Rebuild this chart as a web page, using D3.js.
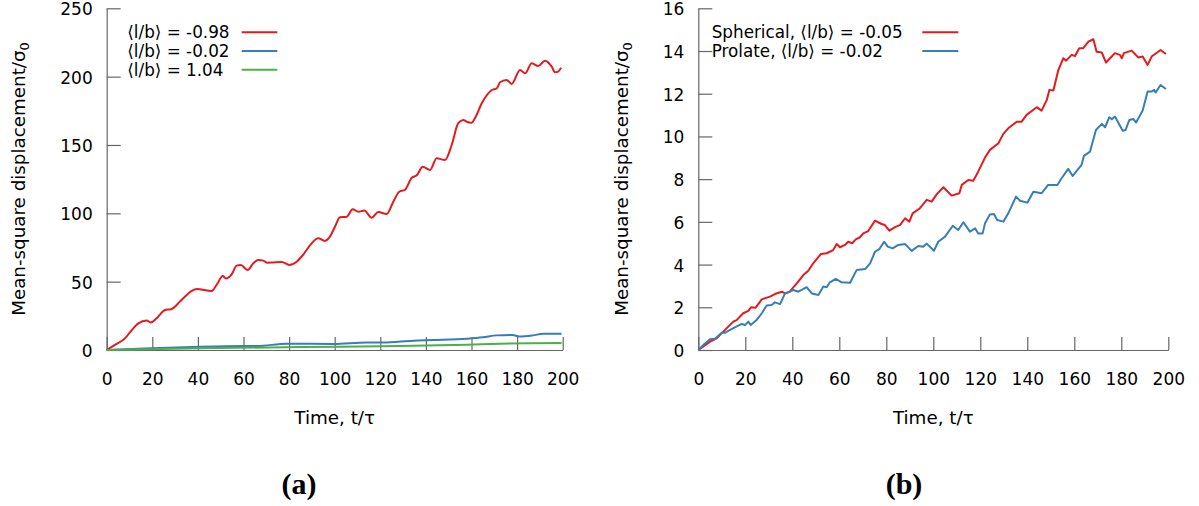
<!DOCTYPE html>
<html>
<head>
<meta charset="utf-8">
<script src="https://cdn.jsdelivr.net/npm/d3@7"></script>
<style>
  html, body { margin: 0; padding: 0; background: #fff; }
  svg { display: block; font-family: "DejaVu Sans", sans-serif; }
  .axis path, .axis line { stroke: #666; stroke-width: 1.2; }
  .axis text { font-size: 17px; fill: #000; font-family: "DejaVu Sans", sans-serif; }
</style>
</head>
<body>
<svg id="chart" width="1199" height="506"></svg>
<script>
// ---- Panel (a): three orientation ensembles ----
const timeTicks = [0, 20, 40, 60, 80, 100, 120, 140, 160, 180, 200];
const msdTicksA = [0, 50, 100, 150, 200, 250];
const msdTicksB = [0, 2, 4, 6, 8, 10, 12, 14, 16];

const labelsA = ["\u27E8l/b\u27E9 = -0.98", "\u27E8l/b\u27E9 = -0.02", "\u27E8l/b\u27E9 = 1.04"];
const labelsB = ["Spherical, \u27E8l/b\u27E9 = -0.05", "Prolate, \u27E8l/b\u27E9 = -0.02"];

const tA1 = [0, 3.6, 8, 11, 13.9, 17.5, 19.4, 21.9, 25.6, 28.2, 32.1, 34.3, 37.3, 39.5, 46, 48.2, 50.9, 52.3, 54.8, 57, 58.8, 61.8, 64.3, 66.5, 68.7, 70.4, 73, 76.8, 80.1, 83.3, 86.3, 89.5, 92.8, 95.7, 97.9, 100.1, 102.3, 105.3, 107.9, 110.4, 113, 116.2, 119.1, 122.8, 125.7, 128.3, 130.8, 133.8, 136, 138.6, 141.8, 144.7, 148.4, 151.3, 154.2, 156.4, 157.9, 160.1, 161.5, 164.5, 168.9, 171.1, 172.5, 175.4, 177.6, 181.3, 183.5, 186.4, 189.3, 192.2, 195.2, 196.6, 198, 199.3];
const msdA1 = [0, 3.7, 8.5, 14.6, 19.5, 21.5, 20.2, 23.2, 29.3, 29.8, 35.4, 39, 43.2, 44.6, 43.2, 47.6, 54.1, 52.4, 55.4, 61.7, 62.2, 58.5, 63.4, 65.9, 65.4, 63.9, 64.1, 64.4, 62.2, 64.6, 70, 77.3, 81.7, 79.8, 82.9, 90.2, 97.1, 97.5, 102.9, 101.2, 102, 96.8, 101, 99.5, 108.5, 115.8, 117.1, 126.1, 127.8, 134.1, 131.7, 140.3, 139, 150, 166, 168.3, 167, 166.3, 169.5, 180.5, 190.2, 191.5, 195.9, 197.6, 194.6, 204.9, 202.4, 209.8, 207.8, 211.7, 207.3, 203.2, 203.7, 206.6];

const tA2 = [0, 19, 41, 59.9, 66, 78.8, 99.4, 114, 121, 134.5, 143, 158, 165, 171, 178, 181, 187, 191.5, 199.5];
const msdA2 = [0, 1.2, 2.4, 2.9, 2.9, 4.6, 4.4, 5.4, 5.4, 6.8, 7.3, 8.3, 9.3, 10.7, 11, 9.8, 10.7, 11.9, 11.9];

const tA3 = [0, 41, 85, 128.5, 158, 172.5, 199.5];
const msdA3 = [0, 1.2, 2.2, 2.9, 3.9, 4.6, 5.1];

// ---- Panel (b): spherical vs prolate ----
const tB1 = [0, 2.9, 5, 7.8, 10.6, 14.9, 16.3, 19.1, 21.3, 22.4, 24.4, 27, 30.5, 32.6, 35.5, 36.9, 38.9, 41.9, 44.7, 46.8, 48.9, 52.2, 54.6, 57.4, 58.9, 60.3, 62.4, 63.8, 65.5, 67, 68.8, 70.2, 72.3, 75.2, 78, 79.4, 81.3, 83.7, 85.8, 88, 89.8, 91.2, 94.3, 97.2, 99.3, 101.5, 104.3, 107.8, 111.1, 112.1, 114.9, 117, 119.1, 122, 124.1, 127.7, 129.8, 131.9, 135.5, 137.6, 139.7, 144, 146.1, 148.3, 149.4, 151.1, 153.2, 155.3, 156.5, 158.9, 160.3, 162.1, 163.8, 166, 168.1, 169.5, 171.7, 173.5, 175.2, 177.3, 179.4, 180.2, 181.1, 184.4, 187.2, 189.1, 191.2, 192.9, 196.7, 199];
const msdB1 = [0, 0.23, 0.39, 0.55, 0.86, 1.33, 1.4, 1.72, 1.83, 2.0, 1.98, 2.37, 2.5, 2.62, 2.73, 2.65, 2.73, 3.12, 3.51, 3.71, 4.06, 4.5, 4.53, 4.68, 4.96, 4.81, 4.92, 5.07, 5.0, 5.18, 5.28, 5.46, 5.57, 6.06, 5.9, 5.85, 5.59, 5.75, 5.85, 6.17, 6.01, 6.4, 6.64, 7.03, 6.95, 7.3, 7.62, 7.23, 7.34, 7.73, 7.96, 7.93, 8.35, 9.01, 9.37, 9.68, 10.12, 10.38, 10.69, 10.69, 11.01, 11.37, 11.21, 11.71, 12.18, 12.15, 13.11, 13.66, 13.55, 13.82, 13.77, 14.13, 14.13, 14.44, 14.55, 13.97, 13.93, 13.46, 13.66, 13.9, 13.82, 13.66, 13.9, 14.02, 13.7, 13.74, 13.35, 13.74, 14.05, 13.86];

const tB2 = [0, 2.1, 5, 7.1, 10, 11.4, 14.9, 18.5, 19.9, 21.3, 22.3, 24.8, 27, 29.1, 31.2, 32.6, 34.8, 36.9, 38.9, 40.4, 42.6, 46.1, 48.3, 51.1, 53.2, 54.6, 56, 58.5, 61, 64.6, 67.4, 71, 73.1, 75.2, 77, 79.1, 80.6, 82.7, 85.1, 88, 90.8, 93.6, 95.7, 97.2, 100.3, 102.1, 105, 108.3, 110.6, 112.8, 115.6, 117.8, 119.1, 121, 122, 124.1, 125.8, 127.2, 129.8, 131.9, 135.2, 136.9, 140, 142.6, 146.1, 148.9, 152.8, 154.6, 157.4, 159.3, 163.1, 164.1, 166.7, 169.2, 171.7, 173.1, 174.9, 176, 177.3, 180.6, 181.8, 183.4, 185.1, 186.3, 189.1, 191.2, 192.9, 194, 194.6, 196.7, 199];
const msdB2 = [0, 0.23, 0.5, 0.53, 0.81, 0.81, 1.02, 1.22, 1.17, 1.33, 1.17, 1.4, 1.72, 2.08, 2.11, 2.23, 2.15, 2.65, 2.73, 2.81, 2.73, 2.94, 2.65, 2.58, 2.97, 2.94, 3.17, 3.33, 3.17, 3.15, 3.75, 3.79, 4.06, 4.6, 4.72, 5.07, 4.84, 4.76, 4.92, 4.96, 4.64, 4.87, 4.84, 4.98, 4.65, 5.07, 5.31, 5.82, 5.62, 5.98, 5.54, 5.7, 5.46, 5.46, 5.93, 6.35, 6.37, 6.09, 6.01, 6.4, 7.18, 6.99, 6.9, 7.41, 7.34, 7.73, 7.73, 8.04, 8.48, 8.15, 8.67, 9.09, 9.29, 10.3, 10.59, 10.43, 10.9, 10.8, 10.93, 10.27, 10.3, 10.77, 10.82, 10.65, 11.21, 12.1, 12.1, 12.18, 12.06, 12.41, 12.22];

const RED = "#e41a1c", BLUE = "#377eb8", GREEN = "#4daf4a";

const svg = d3.select("#chart");

function zip(ts, vs) { return ts.map((t, i) => [t, vs[i]]); }

function panel(opts) {
  const x = d3.scaleLinear().domain([0, 200]).range(opts.xRange);
  const y = d3.scaleLinear().domain(opts.yDomain).range([350, 8.3]);
  const g = svg.append("g");

  g.append("g").attr("class", "axis")
    .attr("transform", "translate(0,350)")
    .call(d3.axisBottom(x).tickValues(timeTicks).tickFormat(d3.format("d"))
      .tickSizeInner(-13).tickSizeOuter(0).tickPadding(23));

  g.append("g").attr("class", "axis")
    .attr("transform", `translate(${opts.xRange[0]},0)`)
    .call(d3.axisLeft(y).tickValues(opts.yTicks).tickFormat(d3.format("d"))
      .tickSizeInner(-14).tickSizeOuter(0).tickPadding(14))
    .call(a => a.selectAll(".tick text").attr("dy", "0.38em"));

  const line = d3.line().x(d => x(d[0])).y(d => y(d[1])).curve(opts.curve);
  opts.series.forEach(s => {
    g.append("path").datum(zip(s.t, s.v))
      .attr("fill", "none").attr("stroke", s.color)
      .attr("stroke-width", 2).attr("stroke-linejoin", "round")
      .attr("d", line);
  });

  // legend
  opts.series.forEach((s, i) => {
    const cy = 32.3 + i * 18.7;
    g.append("text").attr("x", opts.legendX).attr("y", cy + 6)
      .attr("font-size", 16.8).text(s.label);
    g.append("line").attr("x1", opts.sampleX[0]).attr("x2", opts.sampleX[1])
      .attr("y1", cy).attr("y2", cy)
      .attr("stroke", s.color).attr("stroke-width", 2);
  });

  const cx = (opts.xRange[0] + opts.xRange[1]) / 2;
  g.append("text").attr("x", cx).attr("y", 424)
    .attr("text-anchor", "middle").attr("font-size", 18.3).text("Time, t/\u03C4");

  const yl = g.append("text")
    .attr("transform", `translate(${opts.yTitleX},179) rotate(-90)`)
    .attr("text-anchor", "middle").attr("font-size", 18.3);
  yl.append("tspan").text("Mean-square displacement/\u03C3");
  yl.append("tspan").attr("font-size", 13).attr("dy", 4).text("0");

  g.append("text").attr("x", opts.captionX).attr("y", 494)
    .attr("text-anchor", "middle")
    .attr("font-family", "'Liberation Serif', serif")
    .attr("font-weight", "bold").attr("font-size", 30)
    .text(opts.caption);
}

panel({
  xRange: [106.7, 562.7], yDomain: [0, 250], yTicks: msdTicksA,
  curve: d3.curveMonotoneX,
  series: [
    { t: tA1, v: msdA1, color: RED, label: labelsA[0] },
    { t: tA2, v: msdA2, color: BLUE, label: labelsA[1] },
    { t: tA3, v: msdA3, color: GREEN, label: labelsA[2] }
  ],
  legendX: 127.3, sampleX: [241.7, 277.3],
  yTitleX: 25, captionX: 299, caption: "(a)"
});

panel({
  xRange: [698.3, 1168.3], yDomain: [0, 16], yTicks: msdTicksB,
  curve: d3.curveLinear,
  series: [
    { t: tB1, v: msdB1, color: RED, label: labelsB[0] },
    { t: tB2, v: msdB2, color: BLUE, label: labelsB[1] }
  ],
  legendX: 711.7, sampleX: [922.3, 958.3],
  yTitleX: 628, captionX: 904, caption: "(b)"
});
</script>
</body>
</html>
